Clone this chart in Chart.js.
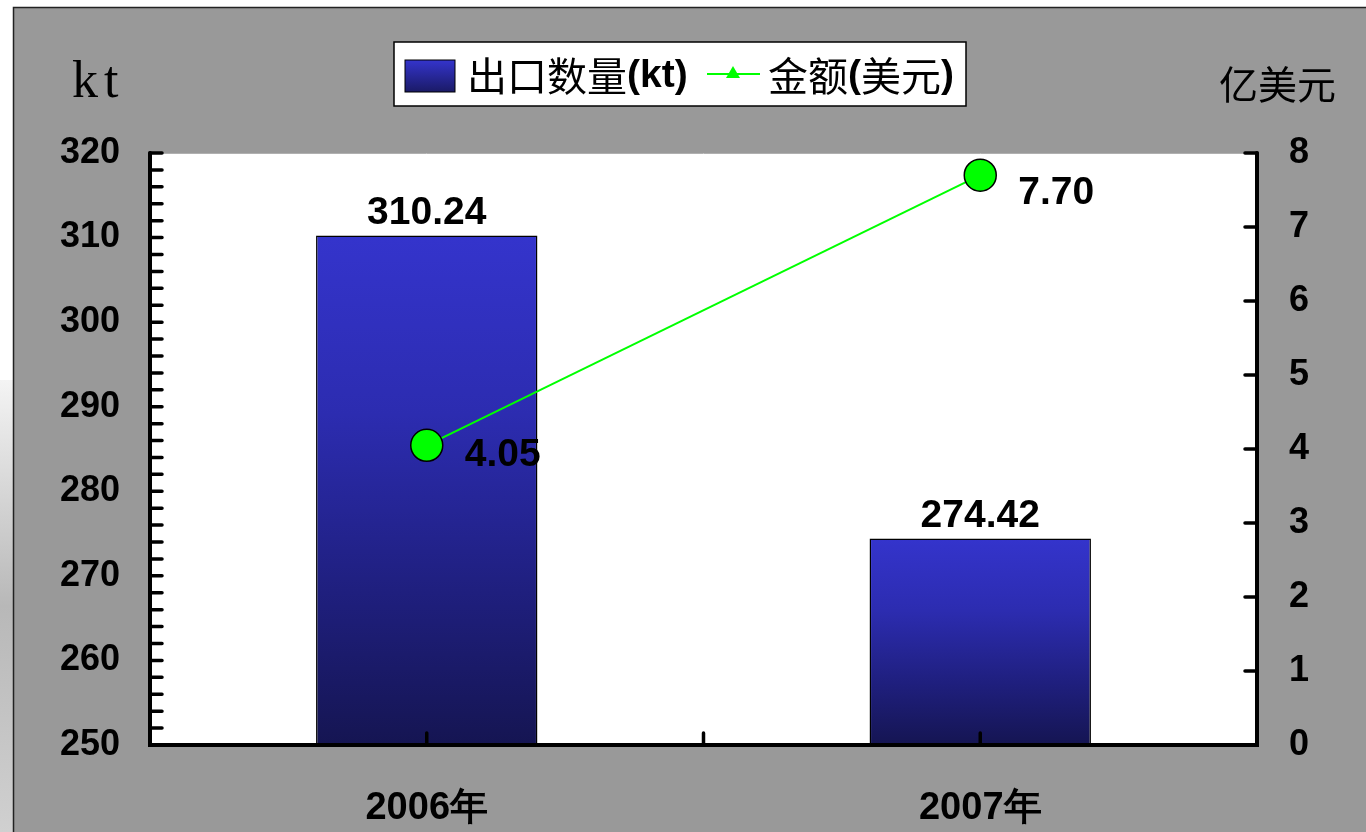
<!DOCTYPE html>
<html>
<head>
<meta charset="utf-8">
<script src="https://cdn.jsdelivr.net/npm/chart.js@4/dist/chart.umd.min.js"></script>
<style>
  html, body { margin: 0; padding: 0; background: #999999; }
  #wrap { width: 1366px; height: 832px; }
</style>
</head>
<body>
<div id="wrap"><canvas id="exportChart"></canvas></div>
<script>
const years = ['2006年', '2007年'];
const exportVolume = [310.24, 274.42];   // 出口数量 (kt)
const exportValue = [4.05, 7.70];        // 金额 (亿美元)
const volumeLabels = ['310.24', '274.42'];
const valueLabels = ['4.05', '7.70'];

const seriesNames = ['出口数量(kt)', '金额(美元)'];
const leftUnit = 'kt';
const rightUnit = '亿美元';

const NUM_FONT = '"Liberation Sans", Arial, sans-serif';
const CJK_FONT = '"Noto Sans CJK SC", "Liberation Sans", sans-serif';

// bar fill: bright blue at top of each bar, navy at the bottom
function barFill(ctx) {
    const chart = ctx.chart;
    const area = chart.chartArea;
    if (!area || ctx.raw === undefined) return '#3333cc';
    const top = chart.scales.y.getPixelForValue(ctx.raw);
    const g = chart.ctx.createLinearGradient(0, top, 0, area.bottom);
    g.addColorStop(0, '#3434cc');
    g.addColorStop(0.35, '#2c2cb0');
    g.addColorStop(0.7, '#1f1f7e');
    g.addColorStop(1, '#151552');
    return g;
}

// background, plot area, legend, units
const framePlugin = {
    id: 'frame',
    beforeDraw(chart) {
        const c = chart.ctx;
        const a = chart.chartArea;
        c.save();
        c.fillStyle = '#ffffff';
        c.fillRect(0, 0, chart.width, chart.height);
        const side = c.createLinearGradient(0, 380, 0, 832);
        side.addColorStop(0, '#f4f4f4');
        side.addColorStop(0.5, '#b8b8b8');
        side.addColorStop(1, '#d0d0d0');
        c.fillStyle = side;
        c.fillRect(0, 380, 13, 452);
        c.fillStyle = '#999999';
        c.fillRect(13, 7, chart.width - 13, chart.height - 7);
        c.strokeStyle = '#222';
        c.lineWidth = 1.5;
        c.beginPath();
        c.moveTo(13.5, chart.height);
        c.lineTo(13.5, 7.5);
        c.lineTo(chart.width, 7.5);
        c.stroke();

        c.fillStyle = '#ffffff';
        c.fillRect(a.left, a.top, a.right - a.left, a.bottom - a.top);
        c.strokeStyle = '#b0b0b0';
        c.lineWidth = 1;
        c.beginPath();
        c.moveTo(a.left, a.top + 0.5);
        c.lineTo(a.right, a.top + 0.5);
        c.stroke();

        // unit labels
        c.fillStyle = '#000';
        c.textBaseline = 'alphabetic';
        c.textAlign = 'left';
        c.font = '52px "Liberation Serif", "DejaVu Serif", serif';
        c.fillText(leftUnit[0], 72, 97);
        c.fillText(leftUnit[1], 104, 97);
        c.textBaseline = 'middle';
        c.font = '39px ' + CJK_FONT;
        c.fillText(rightUnit, 1219, 84);

        // legend box
        const bx = 394, by = 42, bw = 572, bh = 64;
        c.fillStyle = '#ffffff';
        c.fillRect(bx, by, bw, bh);
        c.strokeStyle = '#000';
        c.lineWidth = 1.5;
        c.strokeRect(bx, by, bw, bh);
        const mid = by + bh / 2 + 2;

        const sw = c.createLinearGradient(0, mid - 16, 0, mid + 16);
        sw.addColorStop(0, '#3434cc');
        sw.addColorStop(1, '#1a1a66');
        c.fillStyle = sw;
        c.fillRect(405, mid - 16, 50, 32);
        c.strokeStyle = '#000';
        c.lineWidth = 1;
        c.strokeRect(405, mid - 16, 50, 32);

        let x = 467;
        c.fillStyle = '#000';
        c.font = '40px ' + CJK_FONT;
        c.fillText('出口数量', x, mid);
        x += c.measureText('出口数量').width;
        c.font = 'bold 39px ' + NUM_FONT;
        c.fillText('(kt)', x, mid);

        c.strokeStyle = '#00ff00';
        c.lineWidth = 2;
        c.beginPath();
        c.moveTo(707, mid - 2);
        c.lineTo(760, mid - 2);
        c.stroke();
        c.fillStyle = '#00ff00';
        c.beginPath();
        c.moveTo(733, mid - 10);
        c.lineTo(740, mid + 2);
        c.lineTo(726, mid + 2);
        c.closePath();
        c.fill();

        x = 768;
        c.fillStyle = '#000';
        c.font = '40px ' + CJK_FONT;
        c.fillText('金额', x, mid);
        x += c.measureText('金额').width;
        c.font = 'bold 39px ' + NUM_FONT;
        c.fillText('(', x, mid);
        x += c.measureText('(').width;
        c.font = '40px ' + CJK_FONT;
        c.fillText('美元', x, mid);
        x += c.measureText('美元').width;
        c.font = 'bold 39px ' + NUM_FONT;
        c.fillText(')', x, mid);
        c.restore();
    },
    afterDatasetsDraw(chart) {
        const c = chart.ctx;
        c.save();
        c.fillStyle = '#000';
        c.font = 'bold 39px ' + NUM_FONT;
        const bars = chart.getDatasetMeta(0).data;
        c.textAlign = 'center';
        c.textBaseline = 'bottom';
        bars.forEach((b, i) => c.fillText(volumeLabels[i], b.x, b.y - 3));
        const pts = chart.getDatasetMeta(1).data;
        c.textAlign = 'left';
        c.textBaseline = 'middle';
        pts.forEach((p, i) => c.fillText(valueLabels[i], p.x + 38, p.y + (i === 0 ? 10 : 18)));
        c.restore();
    },
    afterDraw(chart) {
        const c = chart.ctx;
        const a = chart.chartArea;
        const yL = chart.scales.y;
        const yR = chart.scales.y1;
        const xs = chart.scales.x;
        c.save();
        c.strokeStyle = '#000';
        c.lineCap = 'round';
        c.lineWidth = 4;
        c.beginPath();
        c.moveTo(a.left, a.top);
        c.lineTo(a.left, a.bottom);
        c.lineTo(a.right, a.bottom);
        c.lineTo(a.right, a.top);
        c.stroke();
        c.lineWidth = 3.5;
        c.beginPath();
        // left axis: tick every 2 kt, pointing inward
        for (let v = yL.min; v <= yL.max; v += 2) {
            const y = yL.getPixelForValue(v);
            c.moveTo(a.left, y);
            c.lineTo(a.left + 12, y);
        }
        // right axis
        for (let v = yR.min; v <= yR.max; v += 1) {
            const y = yR.getPixelForValue(v);
            c.moveTo(a.right, y);
            c.lineTo(a.right - 12, y);
        }
        // category ticks
        for (let i = 0; i < years.length; i++) {
            const x = xs.getPixelForValue(i);
            c.moveTo(x, a.bottom);
            c.lineTo(x, a.bottom - 12);
            if (i < years.length - 1) {
                const xm = (x + xs.getPixelForValue(i + 1)) / 2;
                c.moveTo(xm, a.bottom);
                c.lineTo(xm, a.bottom - 12);
            }
        }
        c.stroke();
        c.restore();
    }
};

new Chart(document.getElementById('exportChart').getContext('2d'), {
    data: {
        labels: years,
        datasets: [
            {
                type: 'bar',
                label: seriesNames[0],
                data: exportVolume,
                yAxisID: 'y',
                backgroundColor: barFill,
                borderColor: '#000',
                borderWidth: 1.5,
                categoryPercentage: 1,
                barPercentage: 0.4,
                order: 2
            },
            {
                type: 'line',
                label: seriesNames[1],
                data: exportValue,
                yAxisID: 'y1',
                borderColor: '#00ff00',
                borderWidth: 2,
                pointBackgroundColor: '#00ff00',
                pointBorderColor: '#000',
                pointBorderWidth: 1.5,
                pointRadius: 16,
                fill: false,
                order: 1
            }
        ]
    },
    options: {
        responsive: true,
        maintainAspectRatio: false,
        animation: false,
        layout: { padding: { top: 153, left: 0, right: 0, bottom: 0 } },
        plugins: {
            legend: { display: false },
            title: { display: false },
            tooltip: { enabled: false }
        },
        scales: {
            x: {
                grid: { display: false },
                border: { display: false },
                ticks: {
                    color: '#000',
                    padding: 33,
                    font: { family: NUM_FONT, size: 38, weight: 'bold' }
                },
                afterFit: s => { s.height = 87; }
            },
            y: {
                position: 'left',
                min: 250,
                max: 320,
                grid: { display: false },
                border: { display: false },
                ticks: {
                    stepSize: 10,
                    color: '#000',
                    padding: 22,
                    font: { family: NUM_FONT, size: 36, weight: 'bold' }
                },
                afterFit: s => { s.width = 150; }
            },
            y1: {
                position: 'right',
                min: 0,
                max: 8,
                grid: { display: false },
                border: { display: false },
                ticks: {
                    stepSize: 1,
                    color: '#000',
                    padding: 24,
                    font: { family: NUM_FONT, size: 36, weight: 'bold' }
                },
                afterFit: s => { s.width = 109; }
            }
        }
    },
    plugins: [framePlugin]
});
</script>
</body>
</html>
